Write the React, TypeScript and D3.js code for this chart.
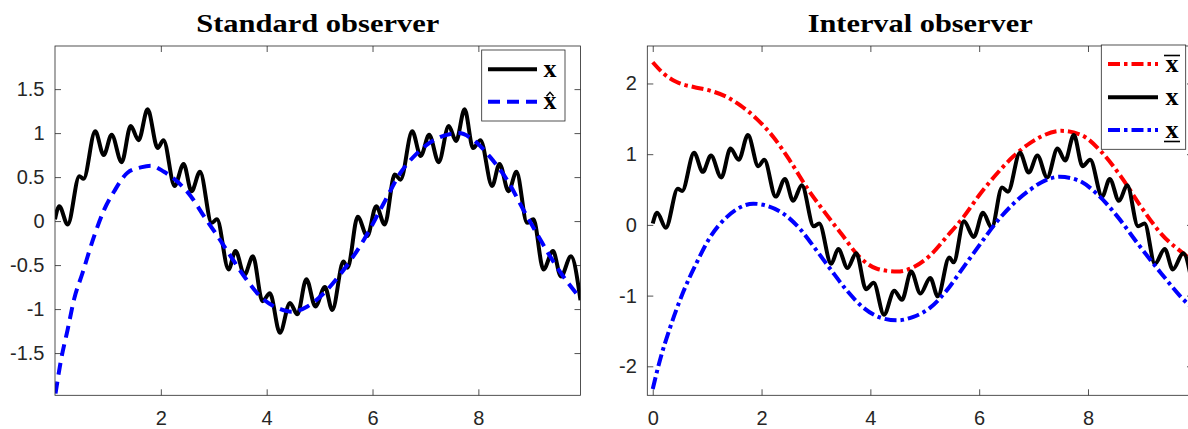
import React, { useEffect, useRef } from 'react'
import * as d3 from 'd3'

// true state x (same trajectory drawn in both panels)
const tX = [
  0.0, 0.08, 0.24, 0.46, 0.54, 0.76, 0.92, 1.07, 1.26, 1.43, 1.58, 1.75, 1.94, 2.05, 2.26, 2.43,
  2.58, 2.74, 2.96, 3.06, 3.28, 3.41, 3.58, 3.74, 3.92, 4.06, 4.25, 4.44, 4.58, 4.75, 4.92, 5.1,
  5.24, 5.45, 5.53, 5.72, 5.9, 6.07, 6.23, 6.42, 6.53, 6.75, 6.91, 7.07, 7.25, 7.44, 7.58, 7.74,
  7.9, 8.04, 8.26, 8.4, 8.57, 8.72, 8.92, 9.04, 9.23, 9.41, 9.56, 9.75, 9.93
]
const xTrue = [
  0.02, 0.17, -0.04, 0.51, 0.48, 1.02, 0.75, 0.98, 0.67, 1.08, 0.92, 1.27, 0.83, 0.92, 0.4, 0.65,
  0.34, 0.56, -0.02, 0.02, -0.55, -0.34, -0.61, -0.4, -0.91, -0.82, -1.27, -0.93, -1.06, -0.66, -0.97, -0.75,
  -1.01, -0.46, -0.53, 0.05, -0.17, 0.17, -0.04, 0.53, 0.47, 1.02, 0.74, 0.98, 0.67, 1.08, 0.91, 1.27,
  0.83, 0.92, 0.4, 0.65, 0.34, 0.56, -0.02, 0.02, -0.55, -0.34, -0.63, -0.4, -0.9
]

// standard observer estimate x-hat
const tHat = [
  0.01, 0.11, 0.24, 0.36, 0.52, 0.74, 0.93, 1.12, 1.37, 1.62, 1.81, 2.06, 2.31, 2.57, 2.82, 3.07,
  3.32, 3.6, 3.92, 4.26, 4.48, 4.77, 5.08, 5.46, 5.84, 6.21, 6.53, 6.84, 7.16, 7.63, 7.91, 8.22,
  8.54, 8.85, 9.17, 9.48, 9.93
]
const xHat = [
  -1.96, -1.59, -1.23, -0.89, -0.59, -0.17, 0.13, 0.34, 0.55, 0.61, 0.63, 0.56, 0.45, 0.28, 0.05, -0.17,
  -0.4, -0.65, -0.88, -1.0, -1.03, -0.97, -0.82, -0.55, -0.21, 0.2, 0.55, 0.77, 0.92, 1.0, 0.92, 0.73,
  0.47, 0.13, -0.21, -0.52, -0.88
]

// interval observer: upper bound
const tUpper = [
  0.0, 0.2, 0.44, 0.75, 1.05, 1.36, 1.61, 1.91, 2.22, 2.52, 2.83, 3.14, 3.47, 3.81, 4.12, 4.49,
  4.79, 5.1, 5.4, 5.71, 6.02, 6.32, 6.63, 6.94, 7.14, 7.51, 7.88, 8.25, 8.61, 8.98, 9.35, 9.84, 9.93
]
const xUpper = [
  2.3, 2.14, 2.02, 1.95, 1.9, 1.81, 1.69, 1.5, 1.24, 0.91, 0.53, 0.2, -0.13, -0.46, -0.62, -0.66,
  -0.6, -0.43, -0.17, 0.11, 0.44, 0.72, 0.97, 1.16, 1.25, 1.33, 1.27, 1.03, 0.68, 0.25, -0.13, -0.46, -0.52
]

// interval observer: lower bound
const tLower = [
  0.0, 0.13, 0.32, 0.56, 0.81, 1.05, 1.36, 1.61, 1.85, 2.1, 2.4, 2.71, 3.01, 3.26, 3.57, 3.87,
  4.18, 4.49, 4.79, 5.1, 5.4, 5.71, 6.02, 6.32, 6.63, 6.94, 7.14, 7.48, 7.82, 8.19, 8.55, 8.92,
  9.35, 9.84, 9.93
]
const xLower = [
  -2.32, -1.92, -1.45, -0.95, -0.53, -0.18, 0.11, 0.25, 0.3, 0.27, 0.16, -0.06, -0.36, -0.62, -0.93, -1.17,
  -1.31, -1.35, -1.3, -1.17, -0.93, -0.6, -0.27, 0.04, 0.3, 0.5, 0.6, 0.68, 0.63, 0.42, 0.11, -0.27,
  -0.69, -1.12, -1.18
]

const leftXTicks = [2, 4, 6, 8]
const leftYTicks = [-1.5, -1, -0.5, 0, 0.5, 1, 1.5]
const rightXTicks = [0, 2, 4, 6, 8]
const rightYTicks = [-2, -1, 0, 1, 2]

const W = 1188
const H = 429
const AX = '#262626'
const SANS = '"Liberation Sans", Arial, sans-serif'
const SERIF = '"Liberation Serif", "Times New Roman", serif'

type Series = { t: number[]; v: number[]; color: string; dash: string | null }

type Panel = {
  id: string
  title: string
  titleWidth: number
  left: number
  right: number
  top: number
  bottom: number
  xDomain: [number, number]
  yDomain: [number, number]
  xTicks: number[]
  yTicks: number[]
  series: Series[]
}

const DASH = '12,7'
const DASHDOT = '12,4,3.5,4'

const panels: Panel[] = [
  {
    id: 'std',
    title: 'Standard observer',
    titleWidth: 243,
    left: 55,
    right: 580.5,
    top: 46,
    bottom: 395.3,
    xDomain: [0, 9.93],
    yDomain: [-1.98, 1.99],
    xTicks: leftXTicks,
    yTicks: leftYTicks,
    series: [
      { t: tX, v: xTrue, color: '#000000', dash: null },
      { t: tHat, v: xHat, color: '#0000ff', dash: DASH }
    ]
  },
  {
    id: 'int',
    title: 'Interval observer',
    titleWidth: 225,
    left: 647.3,
    right: 1193,
    top: 46,
    bottom: 395.3,
    xDomain: [-0.1, 9.93],
    yDomain: [-2.41, 2.53],
    xTicks: rightXTicks,
    yTicks: rightYTicks,
    series: [
      { t: tUpper, v: xUpper, color: '#ff0000', dash: DASHDOT },
      { t: tX, v: xTrue, color: '#000000', dash: null },
      { t: tLower, v: xLower, color: '#0000ff', dash: DASHDOT }
    ]
  }
]

const styleAxis = (g: d3.Selection<SVGGElement, unknown, null, undefined>) => {
  g.selectAll('.domain').remove()
  g.selectAll('.tick line').attr('stroke', AX).attr('stroke-width', 0.8)
  g.selectAll('.tick text')
    .attr('fill', AX)
    .attr('font-family', SANS)
    .attr('font-size', 20)
}

const drawPanel = (svg: d3.Selection<SVGSVGElement, unknown, null, undefined>, p: Panel) => {
  const x = d3.scaleLinear().domain(p.xDomain).range([p.left, p.right])
  const y = d3.scaleLinear().domain(p.yDomain).range([p.bottom, p.top])
  const fmt = (d: d3.NumberValue) => String(d)

  svg.append('defs').append('clipPath')
    .attr('id', `clip-${p.id}`)
    .append('rect')
    .attr('x', p.left)
    .attr('y', p.top)
    .attr('width', p.right - p.left)
    .attr('height', p.bottom - p.top)

  // axes (ticks point inward, MATLAB style)
  svg.append('g')
    .attr('transform', `translate(0,${p.bottom})`)
    .call(d3.axisBottom(x).tickValues(p.xTicks).tickFormat(fmt).tickSizeInner(-6).tickSizeOuter(0).tickPadding(16))
    .call(styleAxis)
  svg.append('g')
    .attr('transform', `translate(0,${p.top})`)
    .call(d3.axisTop(x).tickValues(p.xTicks).tickFormat(() => '').tickSizeInner(-6).tickSizeOuter(0))
    .call(styleAxis)
  svg.append('g')
    .attr('transform', `translate(${p.left},0)`)
    .call(d3.axisLeft(y).tickValues(p.yTicks).tickFormat(fmt).tickSizeInner(-6).tickSizeOuter(0).tickPadding(10.5))
    .call(styleAxis)
  svg.append('g')
    .attr('transform', `translate(${p.right},0)`)
    .call(d3.axisRight(y).tickValues(p.yTicks).tickFormat(() => '').tickSizeInner(-6).tickSizeOuter(0))
    .call(styleAxis)

  // data lines
  const plot = svg.append('g').attr('clip-path', `url(#clip-${p.id})`)
  p.series.forEach(s => {
    const pts = s.t.map((t, i) => [t, s.v[i]] as [number, number])
    const line = d3.line<[number, number]>()
      .x(d => x(d[0]))
      .y(d => y(d[1]))
      .curve(d3.curveMonotoneX)
    plot.append('path')
      .datum(pts)
      .attr('d', line)
      .attr('fill', 'none')
      .attr('stroke', s.color)
      .attr('stroke-width', 4)
      .attr('stroke-linejoin', 'round')
      .attr('stroke-dasharray', s.dash)
  })

  // frame
  svg.append('rect')
    .attr('x', p.left)
    .attr('y', p.top)
    .attr('width', p.right - p.left)
    .attr('height', p.bottom - p.top)
    .attr('fill', 'none')
    .attr('stroke', AX)
    .attr('stroke-width', 0.8)

  // title
  svg.append('text')
    .attr('x', (p.left + p.right) / 2)
    .attr('y', 32)
    .attr('text-anchor', 'middle')
    .attr('font-family', SERIF)
    .attr('font-weight', 'bold')
    .attr('font-size', 25)
    .attr('textLength', p.titleWidth)
    .attr('lengthAdjust', 'spacingAndGlyphs')
    .attr('fill', '#000')
    .text(p.title)
}

const legendLabel = (
  g: d3.Selection<SVGGElement, unknown, null, undefined>,
  cx: number,
  baseline: number,
  mark: 'none' | 'hat' | 'over' | 'under'
) => {
  g.append('text')
    .attr('x', cx)
    .attr('y', baseline)
    .attr('text-anchor', 'middle')
    .attr('font-family', SERIF)
    .attr('font-weight', 'bold')
    .attr('font-size', 26)
    .attr('fill', '#000')
    .text('x')
  if (mark === 'hat') {
    g.append('path')
      .attr('d', `M${cx - 3.5},${baseline - 13} L${cx},${baseline - 17} L${cx + 3.5},${baseline - 13}`)
      .attr('fill', 'none')
      .attr('stroke', '#000')
      .attr('stroke-width', 1.4)
  } else if (mark === 'over' || mark === 'under') {
    const yy = mark === 'over' ? baseline - 16 : baseline + 4
    g.append('line')
      .attr('x1', cx - 8).attr('x2', cx + 8)
      .attr('y1', yy).attr('y2', yy)
      .attr('stroke', '#000')
      .attr('stroke-width', 1.6)
  }
}

const drawLegends = (svg: d3.Selection<SVGSVGElement, unknown, null, undefined>) => {
  // left legend
  const gl = svg.append('g')
  gl.append('rect')
    .attr('x', 481.7).attr('y', 50).attr('width', 83.3).attr('height', 71)
    .attr('fill', '#fff').attr('stroke', AX).attr('stroke-width', 0.8)
  const leftRows = [
    { y: 69.3, color: '#000', dash: null as string | null, mark: 'none' as const },
    { y: 101.7, color: '#0000ff', dash: DASH, mark: 'hat' as const }
  ]
  leftRows.forEach(r => {
    gl.append('line')
      .attr('x1', 488).attr('x2', 537).attr('y1', r.y).attr('y2', r.y)
      .attr('stroke', r.color).attr('stroke-width', 4).attr('stroke-dasharray', r.dash)
    legendLabel(gl, 550, r.y + 7.5, r.mark)
  })

  // right legend
  const gr = svg.append('g')
  gr.append('rect')
    .attr('x', 1101.3).attr('y', 45).attr('width', 84.4).attr('height', 104.3)
    .attr('fill', '#fff').attr('stroke', AX).attr('stroke-width', 0.8)
  const rightRows = [
    { y: 64, color: '#ff0000', dash: DASHDOT as string | null, mark: 'over' as const },
    { y: 97.3, color: '#000', dash: null as string | null, mark: 'none' as const },
    { y: 130, color: '#0000ff', dash: DASHDOT as string | null, mark: 'under' as const }
  ]
  rightRows.forEach(r => {
    gr.append('line')
      .attr('x1', 1108).attr('x2', 1158).attr('y1', r.y).attr('y2', r.y)
      .attr('stroke', r.color).attr('stroke-width', 4).attr('stroke-dasharray', r.dash)
    legendLabel(gr, 1172, r.y + 7.5, r.mark)
  })
}

export default function App() {
  const svgRef = useRef<SVGSVGElement>(null)

  useEffect(() => {
    if (!svgRef.current) return
    const svg = d3.select(svgRef.current)
    svg.selectAll('*').remove()
    panels.forEach(p => drawPanel(svg, p))
    drawLegends(svg)
  }, [])

  return (
    <svg
      ref={svgRef}
      width={W}
      height={H}
      style={{ position: 'absolute', left: 0, top: 0, background: '#fff' }}
    />
  )
}
